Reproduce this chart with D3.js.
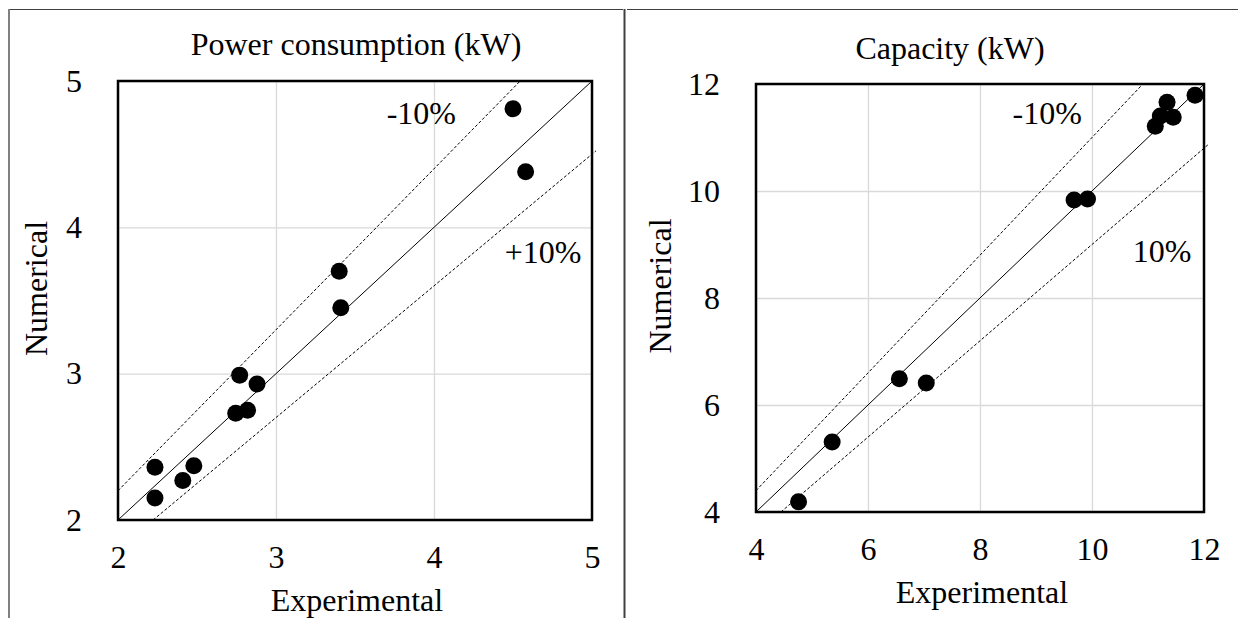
<!DOCTYPE html>
<html>
<head>
<meta charset="utf-8">
<script src="https://cdn.jsdelivr.net/npm/d3@7"></script>
<style>
  body { margin: 0; background: #fff; }
  text { font-family: "Liberation Serif", "Times New Roman", serif; fill: #000; }
</style>
</head>
<body>
<div id="chart"></div>
<script>
const WIDTH = 1239, HEIGHT = 618;

// power consumption (kW)
const powerExp = [4.50, 4.58, 3.40, 3.41, 2.77, 2.88, 2.745, 2.82, 2.234, 2.48, 2.41, 2.234];
const powerNum = [4.81, 4.38, 3.70, 3.45, 2.99, 2.93, 2.73, 2.75, 2.36, 2.37, 2.27, 2.15];
const powerTicks = [2, 3, 4, 5];

// capacity (kW)
const capExp = [11.84, 11.34, 11.45, 11.22, 11.13, 9.68, 9.92, 6.56, 7.04, 5.36, 4.76];
const capNum = [11.79, 11.66, 11.38, 11.40, 11.21, 9.83, 9.85, 6.49, 6.41, 5.31, 4.19];
const capTicks = [4, 6, 8, 10, 12];

// band labels, placed in data units
const powerNotes = [{ t: "-10%", x: 3.92, y: 4.78 }, { t: "+10%", x: 4.69, y: 3.83 }];
const capNotes = [{ t: "-10%", x: 9.2, y: 11.46 }, { t: "10%", x: 11.25, y: 8.88 }];

const svg = d3.select("#chart")
    .append("svg")
    .attr("width", WIDTH)
    .attr("height", HEIGHT)

svg.append("rect").attr("width", WIDTH).attr("height", HEIGHT).attr("fill", "#fff")

// outer frames
svg.append("line").attr("x1", 9).attr("x2", 623).attr("y1", 9.5).attr("y2", 9.5)
    .attr("stroke", "#404040").attr("stroke-width", 1)
svg.append("line").attr("x1", 627).attr("x2", 1238).attr("y1", 9.5).attr("y2", 9.5)
    .attr("stroke", "#404040").attr("stroke-width", 1)
svg.append("line").attr("x1", 9).attr("x2", 9).attr("y1", 9).attr("y2", HEIGHT)
    .attr("stroke", "#808080").attr("stroke-width", 2)
svg.append("line").attr("x1", 624.5).attr("x2", 624.5).attr("y1", 9).attr("y2", HEIGHT)
    .attr("stroke", "#404040").attr("stroke-width", 2)

const fmt = d3.format("d");

function DrawPanel(p) {
    const x = d3.scaleLinear().domain(p.domain).range([p.left, p.right]);
    const y = d3.scaleLinear().domain(p.domain).range([p.bottom, p.top]);
    const g = svg.append("g");
    const w = p.right - p.left, h = p.bottom - p.top;

    // grid
    g.append("g").attr("transform", `translate(0,${p.bottom})`)
        .call(d3.axisBottom(x).tickValues(p.ticks).tickSize(-h).tickFormat(""))
        .call(a => a.select(".domain").remove())
        .selectAll("line").attr("stroke", "#d9d9d9").attr("stroke-width", 1.3)
    g.append("g").attr("transform", `translate(${p.left},0)`)
        .call(d3.axisLeft(y).tickValues(p.ticks).tickSize(-w).tickFormat(""))
        .call(a => a.select(".domain").remove())
        .selectAll("line").attr("stroke", "#d9d9d9").attr("stroke-width", 1.3)

    // tick labels
    g.append("g").attr("transform", `translate(0,${p.bottom})`)
        .call(d3.axisBottom(x).tickValues(p.ticks).tickFormat(fmt).tickSize(0).tickPadding(25))
        .call(a => a.select(".domain").remove())
        .selectAll("text").style("font-size", "32px").style("font-family", "Liberation Serif")
    g.append("g").attr("transform", `translate(${p.left},0)`)
        .call(d3.axisLeft(y).tickValues(p.ticks).tickFormat(fmt).tickSize(0).tickPadding(36))
        .call(a => a.select(".domain").remove())
        .selectAll("text").style("font-size", "32px").style("font-family", "Liberation Serif")

    const lo = p.domain[0], hi = p.domain[1];
    const clip = "clip" + p.id;
    g.append("clipPath").attr("id", clip).append("rect")
        .attr("x", p.left - 2).attr("y", p.top - 2).attr("width", w + 6).attr("height", h + 4)
    const lines = g.append("g").attr("clip-path", `url(#${clip})`);
    // 1:1 and +/-10% lines
    lines.append("line").attr("x1", x(lo)).attr("y1", y(lo)).attr("x2", x(hi)).attr("y2", y(hi))
        .attr("stroke", "#000").attr("stroke-width", 1)
    lines.append("line").attr("x1", x(lo)).attr("y1", y(lo * 1.1)).attr("x2", x(hi / 1.1)).attr("y2", y(hi))
        .attr("stroke", "#000").attr("stroke-width", 1).attr("stroke-dasharray", "3,2")
    lines.append("line").attr("x1", x(lo / 0.9)).attr("y1", y(lo)).attr("x2", x(hi + 0.03 * (hi - lo))).attr("y2", y(0.9 * (hi + 0.03 * (hi - lo))))
        .attr("stroke", "#000").attr("stroke-width", 1).attr("stroke-dasharray", "3,2")

    // plot border
    g.append("rect").attr("x", p.left).attr("y", p.top).attr("width", w).attr("height", h)
        .attr("fill", "none").attr("stroke", "#000").attr("stroke-width", 2.5)

    // points
    g.selectAll("circle.pt").data(p.xs.map((v, i) => [v, p.ys[i]]))
        .enter().append("circle")
        .attr("class", "pt")
        .attr("cx", d => x(d[0]))
        .attr("cy", d => y(d[1]))
        .attr("r", 8.5)
        .attr("fill", "#000")

    g.selectAll("text.note").data(p.notes)
        .enter().append("text")
        .attr("class", "note")
        .attr("x", d => x(d.x)).attr("y", d => y(d.y))
        .attr("dy", "0.35em")
        .attr("text-anchor", "middle")
        .style("font-size", "32px")
        .text(d => d.t)

    g.append("text").attr("x", p.titleX).attr("y", p.titleY)
        .attr("text-anchor", "middle").style("font-size", "32px").text(p.title)
    g.append("text").attr("x", (p.left + p.right) / 2 + 2).attr("y", p.bottom + 91)
        .attr("text-anchor", "middle").style("font-size", "32px").text("Experimental")
    g.append("text")
        .attr("transform", `translate(${p.yLabelX},${(p.top + p.bottom) / 2 - 12}) rotate(-90)`)
        .attr("text-anchor", "middle").style("font-size", "32px").text("Numerical")
}

DrawPanel({
    id: "a", domain: [2, 5], ticks: powerTicks, xs: powerExp, ys: powerNum, notes: powerNotes,
    left: 118, right: 592, top: 81, bottom: 520,
    title: "Power consumption (kW)", titleX: 356, titleY: 55, yLabelX: 47
})
DrawPanel({
    id: "b", domain: [4, 12], ticks: capTicks, xs: capExp, ys: capNum, notes: capNotes,
    left: 756, right: 1204, top: 84, bottom: 512,
    title: "Capacity (kW)", titleX: 950, titleY: 59, yLabelX: 671
})
</script>
</body>
</html>
